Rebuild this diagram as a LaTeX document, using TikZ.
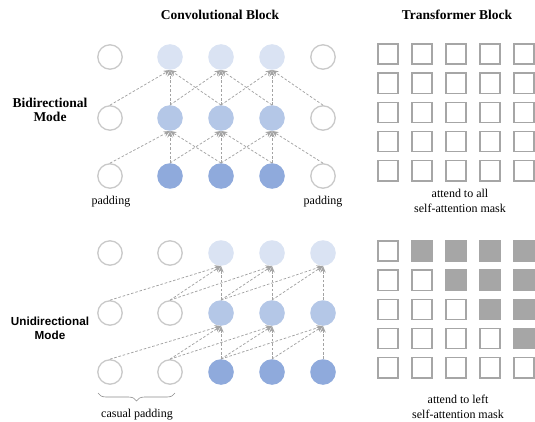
\documentclass[tikz,border=0pt]{standalone}
\usepackage{fontspec}
\setmainfont{Liberation Serif}
\newfontfamily\headsans{Liberation Sans}
\usepackage{xcolor}
\usetikzlibrary{arrows.meta,decorations.pathreplacing}

\definecolor{padgray}{HTML}{C9C9C9}
\definecolor{arrgray}{HTML}{A3A3A3}
\definecolor{cellgray}{HTML}{A6A6A6}
\definecolor{layone}{HTML}{8FAADC}
\definecolor{laytwo}{HTML}{B4C7E7}
\definecolor{laythree}{HTML}{DAE3F3}

\tikzset{
  pad/.style={circle,draw=padgray,line width=1.3pt,minimum size=24.4pt,inner sep=0pt},
  lay0/.style={circle,fill=layone,minimum size=25.6pt,inner sep=0pt},
  lay1/.style={circle,fill=laytwo,minimum size=25.6pt,inner sep=0pt},
  lay2/.style={circle,fill=laythree,minimum size=25.6pt,inner sep=0pt},
  conn/.style={draw=arrgray,line width=0.75pt,dash pattern=on 2.6pt off 1.8pt,
    -{Stealth[length=6.5pt,width=5.5pt]}},
  cell/.style={draw=cellgray,line width=1.4pt,minimum size=20.3pt,inner sep=0pt},
  maskcell/.style={fill=cellgray,minimum size=21.7pt,inner sep=0pt},
  title/.style={font=\bfseries\fontsize{13.5}{15}\selectfont},
  small/.style={font=\fontsize{12}{14.5}\selectfont,align=center}
}

\begin{document}
\begin{tikzpicture}[x=1pt,y=-1pt]
\useasboundingbox (0,0) rectangle (535,422);

% titles
\node[title] (convtitle) at (220,15) {Convolutional Block};
\node[title] (transtitle) at (457,15) {Transformer Block};
\node[title,align=center] (bimode) at (50,110)
  {Bidirectional\\[-1pt]Mode};
\node[font=\headsans\bfseries\fontsize{11.7}{14}\selectfont,align=center] (unimode) at (50,328)
  {Unidirectional\\[0pt]Mode};

% bidirectional convolution
\foreach \r/\y in {0/176,1/118,2/57}{
  \node[pad] (u-\r-0) at (110,\y) {};
  \node[lay\r] (u-\r-1) at (170,\y) {};
  \node[lay\r] (u-\r-2) at (221,\y) {};
  \node[lay\r] (u-\r-3) at (272,\y) {};
  \node[pad] (u-\r-4) at (323,\y) {};
}
\foreach \r/\n in {0/1,1/2}{
  \foreach \c in {1,2,3}{
    \pgfmathtruncatemacro{\cl}{\c-1}
    \pgfmathtruncatemacro{\cr}{\c+1}
    \draw[conn] (u-\r-\cl.north) -- (u-\n-\c.south);
    \draw[conn] (u-\r-\c.north) -- (u-\n-\c.south);
    \draw[conn] (u-\r-\cr.north) -- (u-\n-\c.south);
  }
}
\node[small] (padl) at (111,202) {padding};
\node[small] (padr) at (323,202) {padding};

% unidirectional convolution
\foreach \r/\y in {0/372,1/313,2/253}{
  \node[pad] (l-\r-0) at (110,\y) {};
  \node[pad] (l-\r-1) at (170,\y) {};
  \node[lay\r] (l-\r-2) at (221,\y) {};
  \node[lay\r] (l-\r-3) at (272,\y) {};
  \node[lay\r] (l-\r-4) at (323,\y) {};
}
\foreach \r/\n in {0/1,1/2}{
  \foreach \c in {2,3,4}{
    \pgfmathtruncatemacro{\ca}{\c-2}
    \pgfmathtruncatemacro{\cb}{\c-1}
    \draw[conn] (l-\r-\ca.north) -- (l-\n-\c.south);
    \draw[conn] (l-\r-\cb.north) -- (l-\n-\c.south);
    \draw[conn] (l-\r-\c.north) -- (l-\n-\c.south);
  }
}
\coordinate (brr) at (175,393);
\coordinate (brl) at (98,393);
\draw[black!45,line width=0.6pt,decorate,
  decoration={brace,amplitude=8pt}] (brr) -- (brl);
\node[small] (caspad) at (137,415) {casual padding};

% attention masks
\foreach \r in {0,...,4}{
  \foreach \c in {0,...,4}{
    \node[cell] (ua-\r-\c) at ({388+34*\c},{54+29.2*\r}) {};
    \ifnum\c>\r
      \node[maskcell] (la-\r-\c) at ({388+34*\c},{251+29.2*\r}) {};
    \else
      \node[cell] (la-\r-\c) at ({388+34*\c},{251+29.2*\r}) {};
    \fi
  }
}
\node[small] (allmask) at (460,201) {attend to all\\self-attention mask};
\node[small] (leftmask) at (458,407) {attend to left\\self-attention mask};
\end{tikzpicture}
\end{document}
